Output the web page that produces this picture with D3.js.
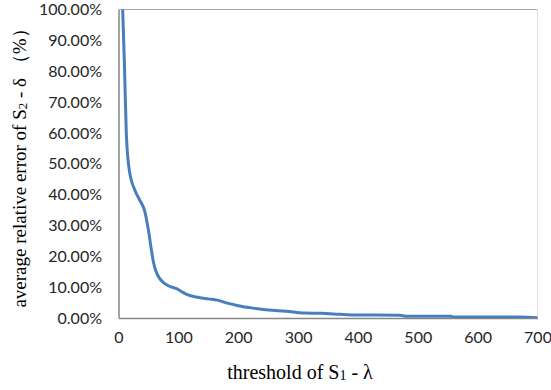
<!DOCTYPE html>
<html><head><meta charset="utf-8">
<script src="https://cdn.jsdelivr.net/npm/d3@7"></script>
<style>body{margin:0;background:#fff}svg{display:block}</style>
</head><body>
<svg id="c" width="551" height="390"></svg>
<script>
const thresholds = [7,10,13,18,27,35,44,50,55,58,62,68,75,85,97,105,116,130,150,165,180,200,225,250,280,310,340,360,390,470,480,555,560,670,700];
const errors = [100,81.7,60,48,41.6,38.4,34.5,28.5,22,18.5,15.5,13,11.5,10.3,9.5,8.6,7.5,6.8,6.2,5.8,4.9,4.0,3.2,2.6,2.2,1.6,1.5,1.3,1.0,0.9,0.6,0.55,0.35,0.3,0.1];
const xTicks = [0,100,200,300,400,500,600,700];
const yTicks = [0,10,20,30,40,50,60,70,80,90,100];

const svg = d3.select("#c");
const L = 118.5, R = 537.5, T = 9.5, B = 318;
const x = d3.scaleLinear().domain([0,700]).range([L,R]);
const y = d3.scaleLinear().domain([0,100]).range([B,T]);

svg.append("defs").append("clipPath").attr("id","clip")
  .append("rect").attr("x",L).attr("y",T).attr("width",R-L).attr("height",B-T);

// plot frame
svg.append("line").attr("x1",L).attr("x2",R).attr("y1",T).attr("y2",T).attr("stroke","#a6a6a6").attr("stroke-width",1);
svg.append("line").attr("x1",R).attr("x2",R).attr("y1",T).attr("y2",B).attr("stroke","#e0e0e0").attr("stroke-width",1);

const fmt = d => d.toFixed(2) + "%";
const yAxis = svg.append("g").attr("transform",`translate(${L},0)`)
  .call(d3.axisLeft(y).tickValues(yTicks).tickFormat(fmt).tickSize(0).tickPadding(16.5));
const xAxis = svg.append("g").attr("transform",`translate(0,${B})`)
  .call(d3.axisBottom(x).tickValues(xTicks).tickSize(0).tickPadding(14));
[yAxis,xAxis].forEach(a=>{
  a.select(".domain").attr("stroke","#868686").attr("stroke-width",1.5);
  a.selectAll("text").attr("font-family","Lato, 'Open Sans', sans-serif").attr("font-size",16).attr("fill","#262626");
});

const line = d3.line().x((d,i)=>x(thresholds[i])).y(d=>y(d)).curve(d3.curveMonotoneX);
svg.append("path").datum(errors).attr("clip-path","url(#clip)")
  .attr("d",line).attr("fill","none").attr("stroke","#4a7ebb").attr("stroke-width",3).attr("stroke-linejoin","round");

// axis titles
const xt = svg.append("text").attr("x",300).attr("y",379).attr("text-anchor","middle")
  .attr("font-family","'Liberation Serif','Times New Roman',serif").attr("font-size",20).attr("fill","#000");
xt.append("tspan").text("threshold of S");
xt.append("tspan").attr("font-size",14).attr("dy",1).text("1");
xt.append("tspan").attr("dy",-1).text(" - λ");

const yt = svg.append("text").attr("transform","translate(26,163.5) rotate(-90)").attr("text-anchor","middle")
  .attr("font-family","'Liberation Serif','Times New Roman',serif").attr("font-size",19).attr("fill","#000");
yt.append("tspan").text("average relative error of S");
yt.append("tspan").attr("font-size",13).attr("dy",1).text("2");
yt.append("tspan").attr("dy",-1).text(" - δ （%）");
</script>
</body></html>
